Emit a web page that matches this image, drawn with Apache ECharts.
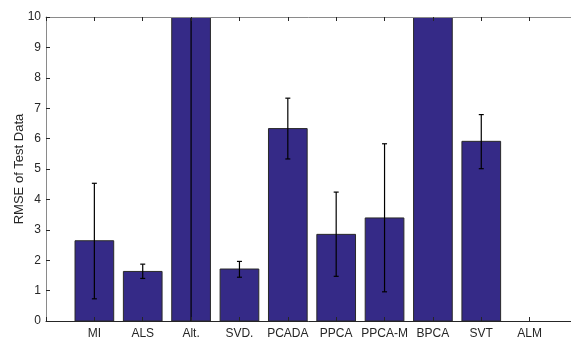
<!DOCTYPE html>
<html>
<head>
<meta charset="utf-8">
<script src="https://cdn.jsdelivr.net/npm/echarts@6/dist/echarts.min.js"></script>
<style>
  html, body { margin: 0; padding: 0; background: #fff; }
  #main { width: 571px; height: 340px; }
</style>
</head>
<body>
<div id="main"></div>
<script>
// methods along the x axis, placed at x = 1..10
const methods = ['MI', 'ALS', 'Alt.', 'SVD.', 'PCADA', 'PPCA', 'PPCA-M', 'BPCA', 'SVT', 'ALM'];
// mean RMSE (Alt. and BPCA run off the top of the plot, ALM has no result)
const rmse = [2.64, 1.63, 13.5, 1.71, 6.33, 2.85, 3.39, 14.0, 5.91, null];
// error bar ends
const errLow = [0.73, 1.40, -0.5, 1.44, 5.33, 1.47, 0.96, 12.5, 5.01, null];
const errHigh = [4.53, 1.87, 27.5, 1.96, 7.33, 4.24, 5.83, 15.5, 6.79, null];
const yTicks = [0, 1, 2, 3, 4, 5, 6, 7, 8, 9, 10];

const chart = echarts.init(document.getElementById('main'));

const barData = methods.map((m, i) => [i + 1, rmse[i]]);
const errData = methods.map((m, i) => [i + 1, errLow[i], errHigh[i]]);

const axisFont = { fontFamily: 'Liberation Sans, Arial, sans-serif', fontSize: 12, color: '#262626' };

const option = {
  animation: false,
  // plot box runs a little past the right edge of the picture, as in the original
  grid: { left: 46, top: 17, width: 532, height: 304, outerBoundsMode: 'none', containLabel: false },
  xAxis: [
    {
      type: 'value',
      position: 'bottom',
      min: 0,
      max: 11,
      interval: 1,
      z: 5,
      axisLine: { lineStyle: { color: '#262626', width: 1 } },
      axisTick: { inside: true, length: 4, lineStyle: { color: '#262626' } },
      splitLine: { show: false },
      axisLabel: Object.assign({}, axisFont, {
        margin: 7,
        formatter: (v) => methods[v - 1] || ''
      })
    },
    {
      type: 'value',
      position: 'top',
      min: 0,
      max: 11,
      interval: 1,
      z: 5,
      axisLine: { lineStyle: { color: '#8a8a8a', width: 1 } },
      axisTick: { inside: true, length: 4, lineStyle: { color: '#262626' } },
      splitLine: { show: false },
      axisLabel: { show: false }
    }
  ],
  yAxis: {
    type: 'value',
    min: yTicks[0],
    max: yTicks[yTicks.length - 1],
    interval: 1,
    z: 5,
    name: 'RMSE of Test Data',
    nameLocation: 'middle',
    nameGap: 20,
    nameMoveOverlap: false,
    nameTextStyle: { fontFamily: 'Liberation Sans, Arial, sans-serif', fontSize: 13, color: '#262626' },
    axisLine: { show: true, lineStyle: { color: '#8a8a8a', width: 1 } },
    axisTick: { show: true, inside: true, length: 4, lineStyle: { color: '#262626' } },
    splitLine: { show: false },
    axisLabel: Object.assign({}, axisFont, { margin: 5 })
  },
  series: [
    {
      type: 'custom',
      xAxisIndex: 0,
      clip: true,
      z: 2,
      data: barData,
      renderItem: function (params, api) {
        const v = api.value(1);
        if (v == null || isNaN(v)) return;
        const x = api.value(0);
        const p0 = api.coord([x - 0.4, v]);
        const p1 = api.coord([x + 0.4, 0]);
        const rect = echarts.graphic.clipRectByRect(
          { x: p0[0], y: p0[1], width: p1[0] - p0[0], height: p1[1] - p0[1] },
          { x: params.coordSys.x, y: params.coordSys.y, width: params.coordSys.width, height: params.coordSys.height }
        );
        if (!rect) return;
        return {
          type: 'rect',
          shape: rect,
          style: { fill: '#352A87', stroke: '#2a2a2a', lineWidth: 1 }
        };
      }
    },
    {
      type: 'custom',
      xAxisIndex: 0,
      clip: true,
      z: 3,
      data: errData,
      renderItem: function (params, api) {
        if (api.value(1) == null || isNaN(api.value(1))) return;
        const x = api.value(0);
        const lo = api.coord([x, api.value(1)]);
        const hi = api.coord([x, api.value(2)]);
        const cap = 2.5;
        const style = { stroke: '#000', lineWidth: 1.2 };
        return {
          type: 'group',
          children: [
            { type: 'line', shape: { x1: lo[0], y1: lo[1], x2: hi[0], y2: hi[1] }, style: style },
            { type: 'line', shape: { x1: lo[0] - cap, y1: lo[1], x2: lo[0] + cap, y2: lo[1] }, style: style },
            { type: 'line', shape: { x1: hi[0] - cap, y1: hi[1], x2: hi[0] + cap, y2: hi[1] }, style: style }
          ]
        };
      }
    }
  ]
};

chart.setOption(option);
</script>
</body>
</html>
